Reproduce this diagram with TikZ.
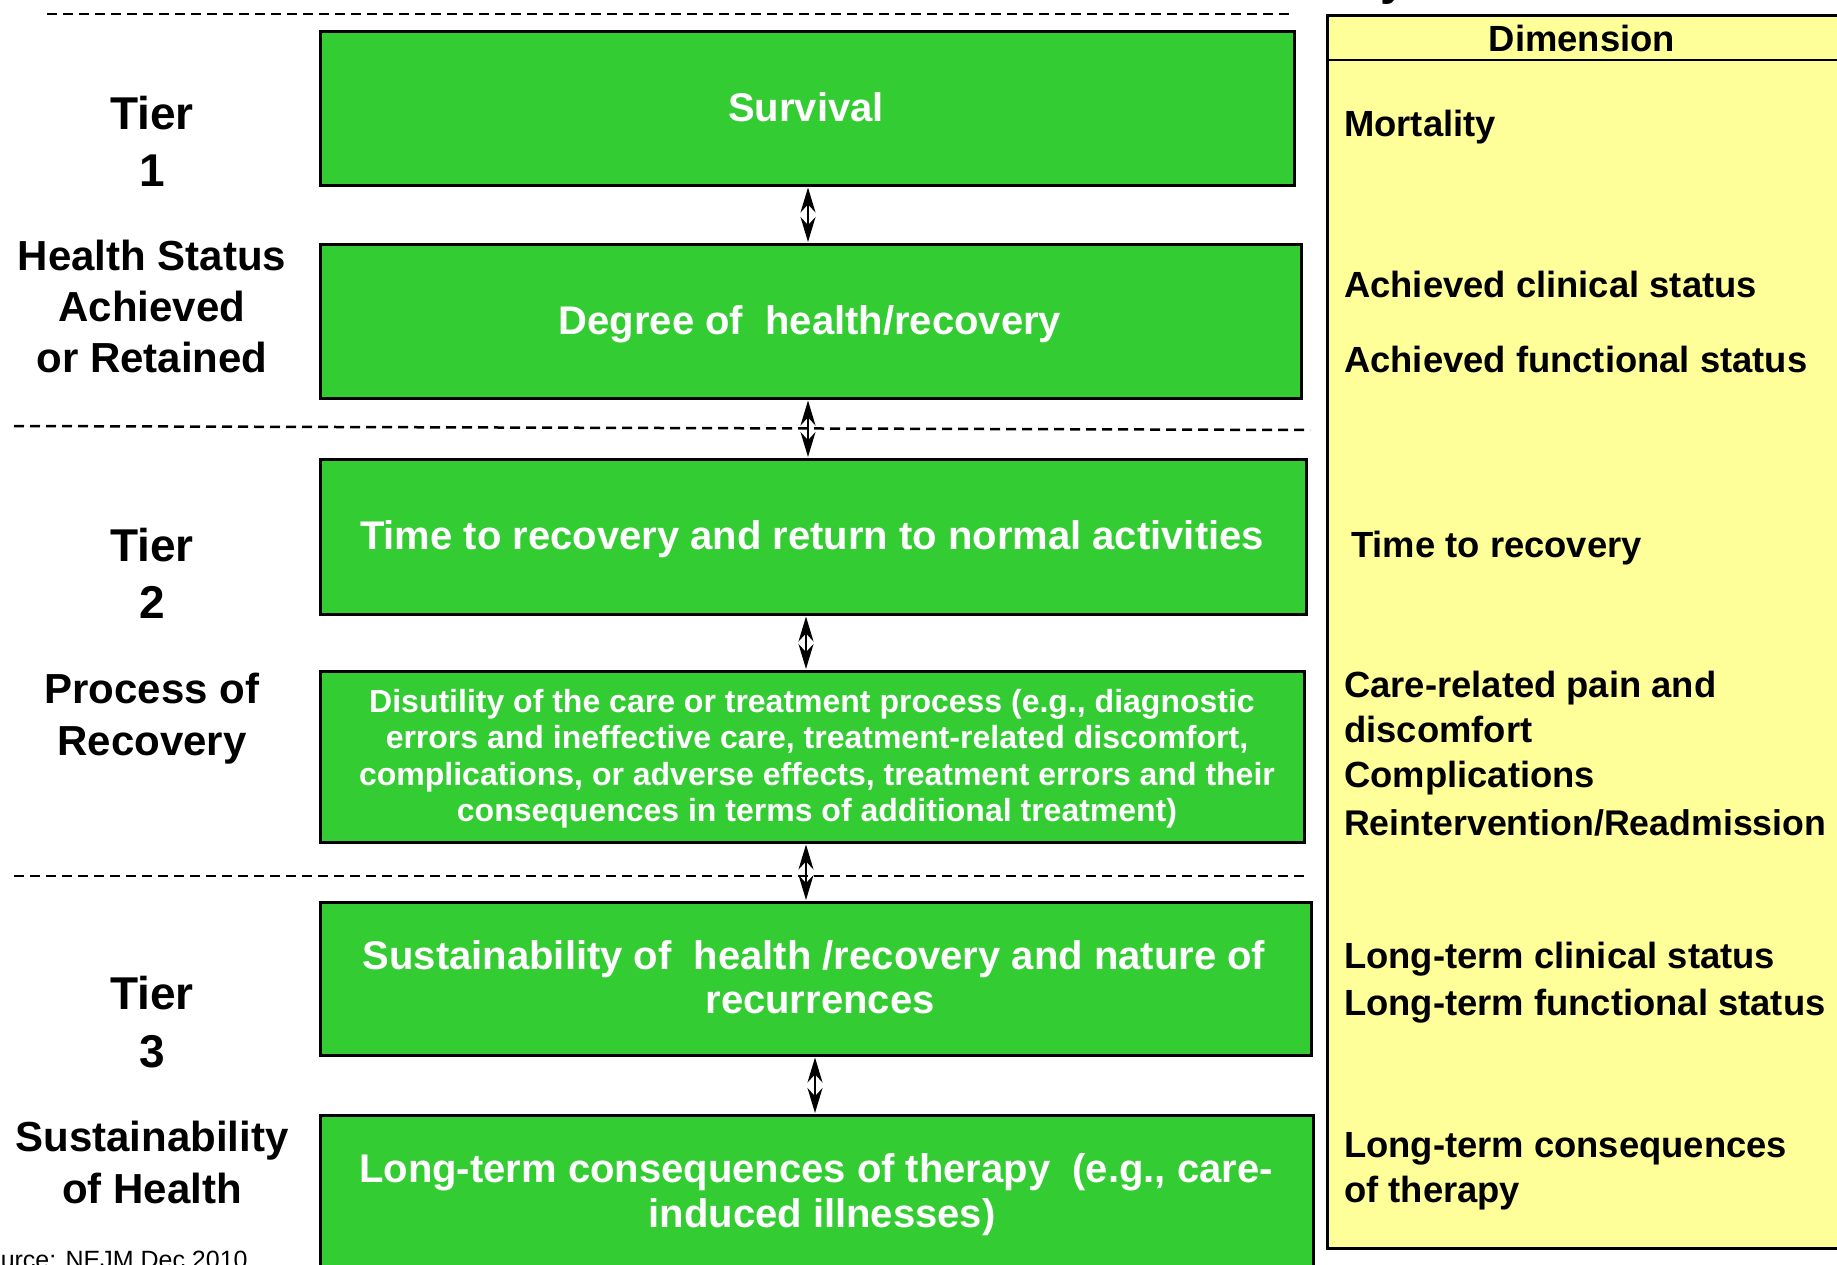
\documentclass[tikz,border=0pt]{standalone}
\usepackage{fontspec}
\setmainfont{Liberation Sans}
\usetikzlibrary{arrows.meta}
\definecolor{boxgreen}{RGB}{51,204,51}
\definecolor{panelyellow}{RGB}{255,255,153}
\begin{document}
\begin{tikzpicture}[x=1pt,y=-1pt,
  gbox/.style={draw=black, line width=2.5pt, fill=boxgreen, inner sep=0pt, anchor=north west},
  gtext/.style={text=white, font=\bfseries\fontsize{40}{48}\selectfont, anchor=base, inner sep=0pt},
  stext/.style={text=white, font=\bfseries\fontsize{32}{38}\selectfont, anchor=base, inner sep=0pt},
  ltext/.style={font=\bfseries\fontsize{42}{50}\selectfont, anchor=base, inner sep=0pt},
  tiertext/.style={font=\bfseries\fontsize{46}{54}\selectfont, anchor=base, inner sep=0pt},
  rtext/.style={font=\bfseries\fontsize{36.4}{44}\selectfont, anchor=base west, inner sep=0pt},
  sep/.style={dashed, dash pattern=on 10pt off 6pt, line width=2.5pt},
  dbl/.style={{Stealth[length=25pt,width=15pt]}-{Stealth[length=25pt,width=15pt]}, line width=2pt, shorten <=1pt, shorten >=1pt}]
\clip (0,0) rectangle (1837,1264);
% fragment of cut-off title
\node[font=\bfseries\fontsize{48}{48}\selectfont, anchor=base west, inner sep=0pt] (ttl) at (1380,-6) {y};
% separators
\draw[sep] (47,14) -- (1289,14);
\draw[sep] (14,426) -- (1310,430);
\draw[sep] (14,876) -- (1310,876);
% right panel
\node[draw=black, line width=3pt, fill=panelyellow, anchor=north west, minimum width=540pt, minimum height=1233pt, inner sep=0pt] (panel) at (1326,14) {};
\coordinate (hl) at (1326,60);
\draw[line width=2.5pt] (hl) -- (hl -| panel.east);
\node[rtext, anchor=base] (dim) at (1582,51) {Dimension};
\node[rtext] (r1) at (1344,136) {Mortality};
\node[rtext] (r2) at (1344,297) {Achieved clinical status};
\node[rtext] (r3) at (1344,372) {Achieved functional status};
\node[rtext] (r4) at (1351,557) {Time to recovery};
\node[rtext] (r5) at (1344,697) {Care-related pain and};
\node[rtext] (r6) at (1344,742) {discomfort};
\node[rtext] (r7) at (1344,787) {Complications};
\node[rtext, font=\bfseries\fontsize{35.7}{44}\selectfont] (r8) at (1344,835) {Reintervention/Readmission};
\node[rtext] (r9) at (1344,968) {Long-term clinical status};
\node[rtext] (r10) at (1344,1015) {Long-term functional status};
\node[rtext] (r11) at (1344,1157) {Long-term consequences};
\node[rtext] (r12) at (1344,1202) {of therapy};
% green boxes
\node[gbox, minimum width=974pt, minimum height=154pt] (b1) at (319,30) {};
\node[gbox, minimum width=981pt, minimum height=154pt] (b2) at (319,243) {};
\node[gbox, minimum width=986pt, minimum height=155pt] (b3) at (319,458) {};
\node[gbox, minimum width=984pt, minimum height=171pt] (b4) at (319,670) {};
\node[gbox, minimum width=991pt, minimum height=153pt] (b5) at (319,901) {};
\node[gbox, minimum width=993pt, minimum height=165pt] (b6) at (319,1114) {};
% box texts
\node[gtext] (t1) at (806,121) {Survival};
\node[gtext] (t2) at (810,334) {Degree of\ \ health/recovery};
\node[gtext] (t3) at (812,549) {Time to recovery and return to normal activities};
\node[stext] (t4a) at (812,712) {Disutility of the care or treatment process (e.g., diagnostic};
\node[stext] (t4b) at (817,748) {errors and ineffective care, treatment-related discomfort,};
\node[stext] (t4c) at (817,785) {complications, or adverse effects, treatment errors and their};
\node[stext] (t4d) at (817,821) {consequences in terms of additional treatment)};
\node[gtext] (t5a) at (814,969) {Sustainability of\ \ health /recovery and nature of};
\node[gtext] (t5b) at (820,1013) {recurrences};
\node[gtext] (t6a) at (816,1182) {Long-term consequences of therapy\ \ (e.g., care-};
\node[gtext] (t6b) at (822,1227) {induced illnesses)};
% arrows
\coordinate (xa) at (808,0);
\coordinate (xb) at (806,0);
\coordinate (xc) at (815,0);
\draw[dbl] (b1.south -| xa) -- (b2.north -| xa);
\draw[dbl] (b2.south -| xa) -- (b3.north -| xa);
\draw[dbl] (b3.south -| xb) -- (b4.north -| xb);
\draw[dbl] (b4.south -| xb) -- (b5.north -| xb);
\draw[dbl] (b5.south -| xc) -- (b6.north -| xc);
% left labels
\node[tiertext] (l1a) at (152,129) {Tier};
\node[tiertext] (l1b) at (152,186) {1};
\node[ltext] (l1c) at (152,270) {Health Status};
\node[ltext] (l1d) at (152,321) {Achieved};
\node[ltext] (l1e) at (152,372) {or Retained};
\node[tiertext] (l2a) at (152,561) {Tier};
\node[tiertext] (l2b) at (152,618) {2};
\node[ltext] (l2c) at (152,703) {Process of};
\node[ltext] (l2d) at (152,755) {Recovery};
\node[tiertext] (l3a) at (152,1009) {Tier};
\node[tiertext] (l3b) at (152,1067) {3};
\node[ltext] (l3c) at (152,1151) {Sustainability};
\node[ltext] (l3d) at (152,1203) {of Health};
% source
\node[font=\fontsize{25}{30}\selectfont, anchor=base west, inner sep=0pt] (src) at (-30,1268) {Source: NEJM Dec 2010};
\end{tikzpicture}
\end{document}
